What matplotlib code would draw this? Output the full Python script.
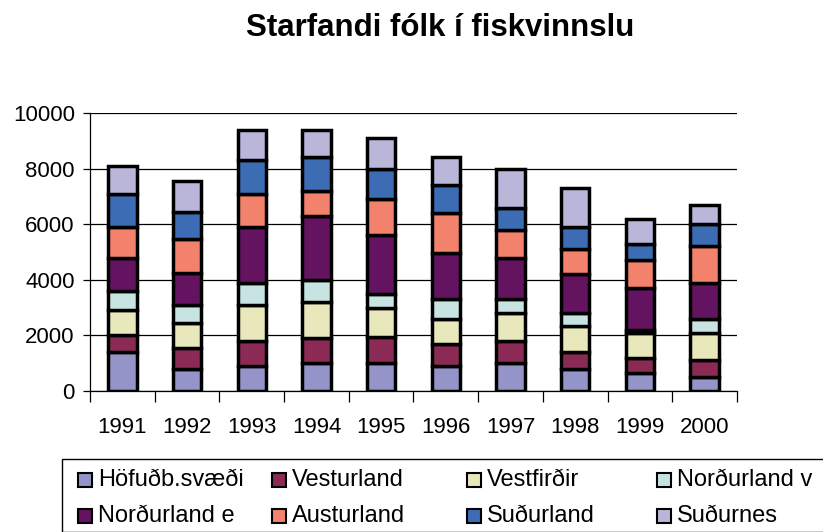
import numpy as np
import matplotlib.pyplot as plt
from matplotlib.patches import Rectangle

plt.rcParams['font.family'] = ['Liberation Sans', 'DejaVu Sans']

years = ["1991", "1992", "1993", "1994", "1995", "1996", "1997", "1998", "1999", "2000"]

hofudb = [1400, 800, 900, 1000, 1000, 900, 1000, 800, 650, 500]
vesturland = [600, 750, 900, 900, 950, 800, 800, 600, 550, 600]
vestfirdir = [900, 900, 1300, 1300, 1050, 900, 1000, 950, 900, 1000]
nordurland_v = [700, 650, 800, 800, 500, 700, 500, 450, 100, 500]
nordurland_e = [1200, 1150, 2000, 2300, 2100, 1650, 1500, 1400, 1500, 1300]
austurland = [1100, 1200, 1200, 900, 1300, 1450, 1000, 900, 1000, 1300]
sudurland = [1200, 1000, 1200, 1200, 1100, 1000, 800, 800, 600, 800]
sudurnes = [1000, 1100, 1100, 1000, 1100, 1000, 1400, 1400, 900, 700]

names = ["Höfuðb.svæði", "Vesturland", "Vestfirðir", "Norðurland v",
         "Norðurland e", "Austurland", "Suðurland", "Suðurnes"]
series = [hofudb, vesturland, vestfirdir, nordurland_v,
          nordurland_e, austurland, sudurland, sudurnes]
colors = ["#9494C8", "#8B2A55", "#E9E8BC", "#C8E4E2",
          "#63135F", "#F3826C", "#3C6CB4", "#BAB6DA"]

fig = plt.figure(figsize=(8.23, 5.32), dpi=100)
ax = fig.add_axes([0.1094, 0.265, 0.786, 0.5226])

x = np.arange(len(years))
bottom = np.zeros(len(years))
for vals, col in zip(series, colors):
    ax.bar(x, vals, width=0.44, bottom=bottom, color=col,
           edgecolor="black", linewidth=2.5, zorder=3)
    bottom += np.array(vals)

ax.set_xlim(-0.5, len(years) - 0.5)
ax.set_ylim(0, 10000)
ax.set_yticks(range(0, 10001, 2000))
ax.yaxis.grid(True, color="black", linewidth=0.9, zorder=0)
ax.tick_params(axis="y", labelsize=16, length=5, width=0.9, pad=6)

# category labels in the middle, tick marks between categories
ax.set_xticks(x)
ax.set_xticklabels(years, fontsize=16)
ax.tick_params(axis="x", length=0, pad=19)
ax.set_xticks(np.arange(-0.5, len(years), 1), minor=True)
ax.tick_params(axis="x", which="minor", length=8, width=0.9)

for side in ("top", "right"):
    ax.spines[side].set_visible(False)
ax.spines["left"].set_linewidth(0.9)
ax.spines["bottom"].set_linewidth(0.9)

fig.text(440 / 823, 0.948, "Starfandi fólk í fiskvinnslu", ha="center", va="center",
         fontsize=22.5, fontweight="bold")

# legend box: 2 rows x 4 columns, partly cut by the figure edge
W, H = 823, 532
fig.patches.append(Rectangle((62 / W, 0), 1 - 62 / W + 0.01, (H - 459) / H,
                             transform=fig.transFigure, facecolor="white",
                             edgecolor="black", linewidth=1.0))
col_x = [78, 272, 467, 657]
row_y = [480, 516]
for i, (name, col) in enumerate(zip(names, colors)):
    cx = col_x[i % 4]
    cy = row_y[i // 4]
    fig.patches.append(Rectangle((cx / W, (H - cy - 7) / H), 14 / W, 14 / H,
                                 transform=fig.transFigure, facecolor=col,
                                 edgecolor="black", linewidth=1.5))
    fig.text((cx + 20) / W, (H - cy) / H, name, ha="left", va="center", fontsize=17)

fig.savefig("out.png", dpi=100)
